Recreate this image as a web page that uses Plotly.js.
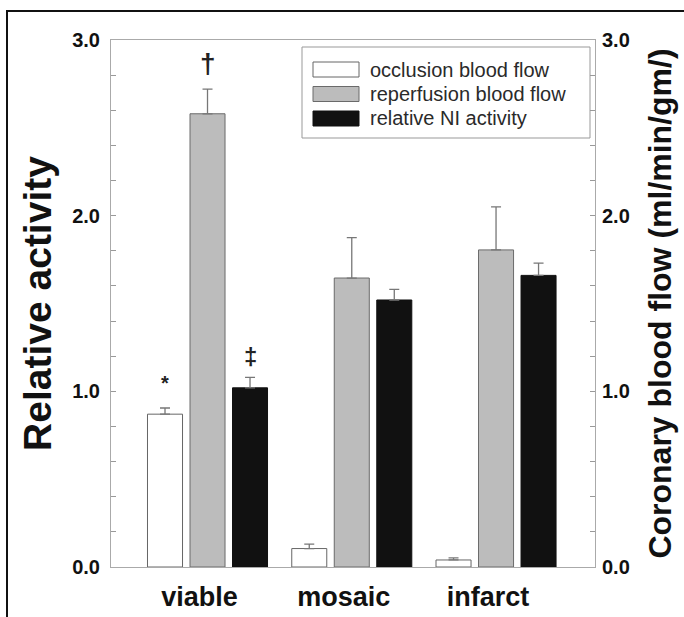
<!DOCTYPE html>
<html>
<head>
<meta charset="utf-8">
<script src="https://cdn.plot.ly/plotly-3.0.1.min.js"></script>
<style>
  html, body { margin: 0; padding: 0; background: #ffffff; }
  #frame { position: absolute; left: 6px; top: 10px; width: 700px; height: 620px;
           border-left: 2px solid #111; border-top: 2px solid #111; }
  #chart { position: absolute; left: 0; top: 0; width: 684px; height: 617px; }
</style>
</head>
<body>
<div id="frame"></div>
<div id="chart"></div>
<script>
// ---- data ----
const categories = ['viable', 'mosaic', 'infarct'];
const seriesNames = ['occlusion blood flow', 'reperfusion blood flow', 'relative NI activity'];
const occlusion = [0.87, 0.105, 0.04];
const occlusionErr = [0.035, 0.025, 0.012];
const reperfusion = [2.58, 1.645, 1.805];
const reperfusionErr = [0.14, 0.23, 0.245];
const niActivity = [1.02, 1.52, 1.66];
const niActivityErr = [0.06, 0.06, 0.07];
const sigOcclusion = ['*', '', ''];
const sigReperfusion = ['\u2020', '', ''];
const sigNi = ['\u2021', '', ''];
const yTickVals = [0, 1, 2, 3];
const yTickText = ['0.0', '1.0', '2.0', '3.0'];

// ---- style ----
const FONT = 'Liberation Sans, Arial, Helvetica, sans-serif';
const fills = ['#ffffff', '#bcbcbc', '#111111'];
const outlines = ['#666666', '#6a6a6a', '#111111'];
const BARGAP = 0.116, BARGROUPGAP = 0.176;
const W = 684, H = 617;
const M = { l: 111, r: 89, t: 40, b: 50 };

const values = [occlusion, reperfusion, niActivity];
const errs = [occlusionErr, reperfusionErr, niActivityErr];
const sigs = [sigOcclusion, sigReperfusion, sigNi];

const traces = values.map((v, s) => ({
  type: 'bar',
  name: seriesNames[s],
  x: categories,
  y: v,
  marker: { color: fills[s], line: { color: outlines[s], width: 1 } },
  error_y: {
    type: 'data', symmetric: false, array: errs[s],
    arrayminus: v.map(() => 0), color: '#777777', thickness: 1.3, width: 5
  },
  showlegend: false,
  hoverinfo: 'skip'
}));
traces.push({ type: 'scatter', x: [], y: [], yaxis: 'y2', showlegend: false });

// significance marks, positioned from the data and bar layout
const slot = (1 - BARGAP) / seriesNames.length;
const annotations = [];
const sigSize = { '*': 20, '\u2020': 28, '\u2021': 24 };
const sigShift = { '*': 12, '\u2020': 8, '\u2021': 5 };
sigs.forEach((arr, s) => arr.forEach((mark, i) => {
  if (!mark) return;
  annotations.push({
    x: i + (s - (seriesNames.length - 1) / 2) * slot, xref: 'x',
    y: values[s][i] + errs[s][i], yref: 'y',
    text: mark, showarrow: false, yanchor: 'bottom', yshift: sigShift[mark],
    font: { family: FONT, size: sigSize[mark], color: '#222', weight: 'bold' }
  });
}));

// legend (drawn as box + swatches + labels in paper coordinates)
const pw = W - M.l - M.r, ph = H - M.t - M.b;
const px = x => (x - M.l) / pw;
const py = y => (H - M.b - y) / ph;
const shapes = [{
  type: 'rect', xref: 'paper', yref: 'paper',
  x0: px(302), x1: px(590), y0: py(138), y1: py(47),
  line: { color: '#999', width: 1 }, fillcolor: 'rgba(0,0,0,0)'
}];
const rowY = [69.5, 94, 118.5];
seriesNames.forEach((n, s) => {
  shapes.push({
    type: 'rect', xref: 'paper', yref: 'paper',
    x0: px(313), x1: px(359), y0: py(rowY[s] + 7.5), y1: py(rowY[s] - 7.5),
    line: { color: outlines[s], width: 1 }, fillcolor: fills[s]
  });
  annotations.push({
    xref: 'paper', yref: 'paper', x: px(368), y: py(rowY[s]),
    xanchor: 'left', yanchor: 'middle', text: n, showarrow: false,
    font: { family: FONT, size: 20, color: '#2a2a2a' }
  });
});

const yCommon = {
  range: [0, 3], tickvals: yTickVals, ticktext: yTickText,
  ticks: 'inside', ticklen: 5, tickcolor: '#999',
  minor: { dtick: 0.2, ticks: 'inside', ticklen: 5, tickcolor: '#999' },
  showgrid: false, zeroline: false,
  showline: true, linecolor: '#aaa', linewidth: 1,
  tickfont: { family: FONT, size: 20, color: '#111', weight: 'bold' }
};

const layout = {
  width: W, height: H,
  margin: M,
  paper_bgcolor: 'rgba(0,0,0,0)', plot_bgcolor: 'rgba(0,0,0,0)',
  barmode: 'group', bargap: BARGAP, bargroupgap: BARGROUPGAP,
  showlegend: false,
  xaxis: {
    type: 'category', range: [-0.669, 2.686],
    showline: true, linecolor: '#aaa', linewidth: 1, mirror: true,
    ticks: '', showgrid: false, zeroline: false,
    ticklabelstandoff: 6, ticklabelshift: -8,
    tickfont: { family: FONT, size: 27, color: '#111', weight: 'bold' }
  },
  yaxis: Object.assign({}, yCommon, {
    ticklabelstandoff: 6,
    title: { text: 'Relative activity', standoff: 8,
             font: { family: FONT, size: 39, color: '#111', weight: 'bold' } }
  }),
  yaxis2: Object.assign({}, yCommon, {
    overlaying: 'y', side: 'right', ticklabelstandoff: 2,
    title: { text: 'Coronary blood flow (ml/min/gm/)', standoff: 19,
             font: { family: FONT, size: 32, color: '#111', weight: 'bold' } }
  }),
  shapes: shapes,
  annotations: annotations
};

Plotly.newPlot('chart', traces, layout, { staticPlot: true, displayModeBar: false });
</script>
</body>
</html>
